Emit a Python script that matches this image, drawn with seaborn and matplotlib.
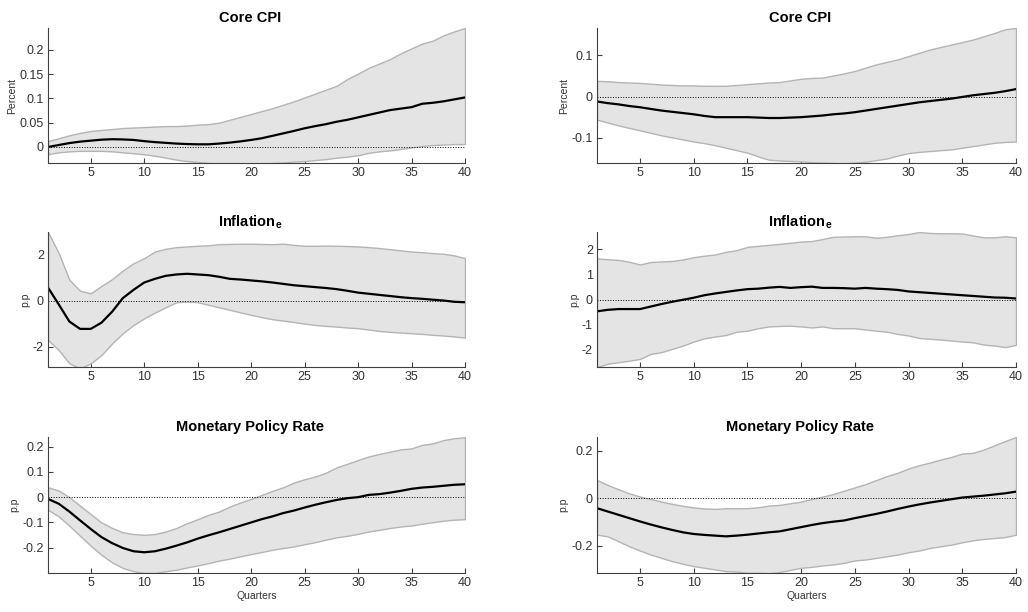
import numpy as np
import pandas as pd
import matplotlib
matplotlib.use("Agg")
import matplotlib.pyplot as plt
from matplotlib.ticker import FormatStrFormatter
import seaborn as sns

# horizon
quarters = list(range(1, 41))

# ---- Core CPI, left column ----
cpi_l_med = [0.000, 0.004, 0.008, 0.011, 0.013, 0.015, 0.016, 0.0155, 0.0145, 0.012,
             0.010, 0.0085, 0.007, 0.006, 0.0055, 0.0055, 0.007, 0.009, 0.0115, 0.0145,
             0.018, 0.023, 0.028, 0.033, 0.0385, 0.043, 0.047, 0.052, 0.056, 0.061,
             0.066, 0.071, 0.076, 0.079, 0.082, 0.089, 0.091, 0.094, 0.098, 0.102]
cpi_l_hi = [0.012, 0.018, 0.024, 0.029, 0.033, 0.035, 0.037, 0.039, 0.040, 0.041,
            0.042, 0.043, 0.043, 0.044, 0.046, 0.047, 0.050, 0.056, 0.062, 0.068,
            0.074, 0.080, 0.087, 0.094, 0.102, 0.110, 0.118, 0.126, 0.140, 0.151,
            0.163, 0.172, 0.181, 0.193, 0.203, 0.213, 0.219, 0.230, 0.238, 0.245]
cpi_l_lo = [-0.015, -0.011, -0.009, -0.008, -0.008, -0.008, -0.009, -0.011, -0.013, -0.015,
            -0.018, -0.022, -0.026, -0.029, -0.031, -0.033, -0.034, -0.035, -0.034, -0.034,
            -0.034, -0.033, -0.032, -0.030, -0.029, -0.027, -0.025, -0.022, -0.020, -0.017,
            -0.012, -0.009, -0.007, -0.004, -0.001, 0.002, 0.004, 0.005, 0.006, 0.006]

# ---- Core CPI, right column ----
cpi_r_med = [-0.012, -0.016, -0.019, -0.023, -0.026, -0.030, -0.034, -0.037, -0.040, -0.043,
             -0.047, -0.050, -0.050, -0.050, -0.050, -0.051, -0.052, -0.052, -0.051, -0.050,
             -0.048, -0.046, -0.043, -0.041, -0.038, -0.034, -0.030, -0.026, -0.022, -0.018,
             -0.014, -0.011, -0.008, -0.005, -0.001, 0.003, 0.006, 0.009, 0.013, 0.018]
cpi_r_hi = [0.038, 0.037, 0.035, 0.034, 0.033, 0.031, 0.029, 0.028, 0.027, 0.027,
            0.026, 0.026, 0.026, 0.028, 0.030, 0.032, 0.034, 0.035, 0.039, 0.043,
            0.045, 0.046, 0.051, 0.056, 0.062, 0.070, 0.078, 0.084, 0.090, 0.098,
            0.106, 0.114, 0.120, 0.126, 0.132, 0.138, 0.146, 0.154, 0.163, 0.166]
cpi_r_lo = [-0.056, -0.063, -0.070, -0.076, -0.082, -0.088, -0.094, -0.099, -0.104, -0.109,
            -0.113, -0.118, -0.124, -0.130, -0.136, -0.145, -0.153, -0.155, -0.156, -0.157,
            -0.159, -0.160, -0.161, -0.162, -0.160, -0.158, -0.154, -0.150, -0.143, -0.137,
            -0.134, -0.132, -0.130, -0.128, -0.124, -0.120, -0.116, -0.112, -0.110, -0.109]

# ---- Inflation expectations, left column ----
inf_l_med = [0.58, -0.15, -0.90, -1.22, -1.22, -0.95, -0.47, 0.12, 0.48, 0.80,
             0.96, 1.09, 1.15, 1.18, 1.15, 1.12, 1.05, 0.96, 0.93, 0.89,
             0.85, 0.80, 0.74, 0.68, 0.64, 0.60, 0.56, 0.51, 0.44, 0.36,
             0.31, 0.26, 0.21, 0.16, 0.12, 0.09, 0.05, 0.015, -0.04, -0.06]
inf_l_hi = [3.00, 2.08, 0.92, 0.44, 0.33, 0.65, 0.95, 1.32, 1.64, 1.86,
            2.15, 2.27, 2.34, 2.37, 2.40, 2.42, 2.47, 2.48, 2.49, 2.49,
            2.48, 2.47, 2.49, 2.44, 2.40, 2.40, 2.41, 2.40, 2.39, 2.37,
            2.34, 2.30, 2.25, 2.20, 2.15, 2.12, 2.08, 2.05, 1.98, 1.86]
inf_l_lo = [-1.70, -2.14, -2.72, -2.94, -2.72, -2.36, -1.85, -1.41, -1.05, -0.76,
            -0.51, -0.28, -0.06, -0.03, -0.06, -0.17, -0.28, -0.39, -0.50, -0.61,
            -0.71, -0.80, -0.86, -0.92, -0.99, -1.05, -1.09, -1.12, -1.16, -1.19,
            -1.25, -1.31, -1.35, -1.38, -1.41, -1.44, -1.48, -1.51, -1.55, -1.60]

# ---- Inflation expectations, right column ----
inf_r_med = [-0.47, -0.41, -0.38, -0.38, -0.38, -0.28, -0.18, -0.09, -0.01, 0.07,
             0.17, 0.24, 0.30, 0.36, 0.41, 0.43, 0.47, 0.50, 0.46, 0.49,
             0.51, 0.46, 0.46, 0.45, 0.43, 0.46, 0.43, 0.41, 0.38, 0.32,
             0.29, 0.26, 0.23, 0.20, 0.17, 0.14, 0.11, 0.08, 0.07, 0.04]
inf_r_hi = [1.63, 1.60, 1.57, 1.50, 1.39, 1.49, 1.51, 1.53, 1.59, 1.68,
            1.74, 1.79, 1.89, 1.96, 2.09, 2.13, 2.17, 2.21, 2.25, 2.30,
            2.32, 2.40, 2.49, 2.50, 2.51, 2.51, 2.45, 2.49, 2.55, 2.60,
            2.68, 2.64, 2.63, 2.63, 2.62, 2.54, 2.47, 2.47, 2.51, 2.47]
inf_r_lo = [-2.68, -2.55, -2.49, -2.43, -2.36, -2.16, -2.09, -1.96, -1.83, -1.67,
            -1.54, -1.47, -1.41, -1.28, -1.24, -1.14, -1.07, -1.05, -1.04, -1.07,
            -1.11, -1.07, -1.14, -1.14, -1.14, -1.19, -1.24, -1.28, -1.37, -1.43,
            -1.53, -1.56, -1.59, -1.63, -1.67, -1.70, -1.79, -1.83, -1.89, -1.80]

# ---- Monetary policy rate, left column ----
mpr_l_med = [-0.007, -0.026, -0.057, -0.092, -0.126, -0.158, -0.182, -0.201, -0.214, -0.218,
             -0.214, -0.204, -0.192, -0.179, -0.164, -0.151, -0.139, -0.126, -0.113, -0.100,
             -0.087, -0.076, -0.063, -0.053, -0.041, -0.030, -0.020, -0.011, -0.004, 0.000,
             0.009, 0.012, 0.018, 0.025, 0.033, 0.038, 0.041, 0.045, 0.049, 0.051]
mpr_l_hi = [0.039, 0.026, 0.000, -0.034, -0.067, -0.100, -0.122, -0.139, -0.146, -0.149,
            -0.146, -0.136, -0.122, -0.103, -0.087, -0.070, -0.057, -0.037, -0.021, -0.007,
            0.009, 0.025, 0.039, 0.058, 0.071, 0.082, 0.097, 0.118, 0.132, 0.147,
            0.161, 0.171, 0.180, 0.189, 0.193, 0.207, 0.213, 0.226, 0.233, 0.237]
mpr_l_lo = [-0.050, -0.076, -0.113, -0.153, -0.192, -0.228, -0.258, -0.280, -0.293, -0.300,
            -0.300, -0.293, -0.287, -0.278, -0.270, -0.261, -0.251, -0.243, -0.234, -0.225,
            -0.217, -0.208, -0.201, -0.195, -0.186, -0.178, -0.168, -0.159, -0.153, -0.145,
            -0.136, -0.129, -0.122, -0.116, -0.112, -0.105, -0.099, -0.093, -0.089, -0.087]

# ---- Monetary policy rate, right column ----
mpr_r_med = [-0.042, -0.056, -0.070, -0.084, -0.098, -0.111, -0.123, -0.134, -0.144, -0.151,
             -0.155, -0.158, -0.161, -0.158, -0.154, -0.149, -0.144, -0.140, -0.131, -0.122,
             -0.113, -0.105, -0.099, -0.094, -0.084, -0.075, -0.066, -0.056, -0.045, -0.035,
             -0.026, -0.018, -0.011, -0.004, 0.003, 0.007, 0.011, 0.016, 0.021, 0.028]
mpr_r_hi = [0.077, 0.056, 0.038, 0.021, 0.007, -0.003, -0.014, -0.024, -0.032, -0.039,
            -0.043, -0.045, -0.042, -0.042, -0.042, -0.038, -0.031, -0.028, -0.021, -0.014,
            -0.003, 0.007, 0.018, 0.032, 0.046, 0.060, 0.077, 0.094, 0.108, 0.126,
            0.140, 0.151, 0.164, 0.175, 0.189, 0.192, 0.206, 0.224, 0.242, 0.259]
mpr_r_lo = [-0.154, -0.161, -0.182, -0.203, -0.221, -0.238, -0.252, -0.266, -0.277, -0.287,
            -0.294, -0.301, -0.308, -0.310, -0.315, -0.315, -0.317, -0.312, -0.303, -0.294,
            -0.290, -0.284, -0.280, -0.273, -0.263, -0.259, -0.252, -0.245, -0.238, -0.228,
            -0.221, -0.210, -0.203, -0.196, -0.186, -0.178, -0.172, -0.168, -0.164, -0.154]

titles = ["Core CPI", r"Inflation$_{\mathbf{e}}$", "Monetary Policy Rate"]
ylabels = ["Percent", "p.p", "p.p"]

sns.set_theme(style="white")
plt.rcParams["font.family"] = ["Liberation Sans", "DejaVu Sans"]
plt.rcParams["mathtext.fontset"] = "custom"
plt.rcParams["mathtext.rm"] = "Liberation Sans"
plt.rcParams["mathtext.bf"] = "Liberation Sans:bold"
plt.rcParams["axes.unicode_minus"] = False

panels = [
    # (row, col, med, lo, hi, ylim, yticks)
    (0, 0, cpi_l_med, cpi_l_lo, cpi_l_hi, (-0.033, 0.245), [0, 0.05, 0.1, 0.15, 0.2]),
    (0, 1, cpi_r_med, cpi_r_lo, cpi_r_hi, (-0.161, 0.166), [-0.1, 0, 0.1]),
    (1, 0, inf_l_med, inf_l_lo, inf_l_hi, (-2.88, 3.0), [-2, 0, 2]),
    (1, 1, inf_r_med, inf_r_lo, inf_r_hi, (-2.68, 2.68), [-2, -1, 0, 1, 2]),
    (2, 0, mpr_l_med, mpr_l_lo, mpr_l_hi, (-0.300, 0.238), [-0.2, -0.1, 0, 0.1, 0.2]),
    (2, 1, mpr_r_med, mpr_r_lo, mpr_r_hi, (-0.316, 0.259), [-0.2, 0, 0.2]),
]

fig = plt.figure(figsize=(10.28, 6.12), dpi=100)

col_x = [48 / 1028, 597 / 1028]
col_w = [417 / 1028, 419 / 1028]
row_y = [1 - 163 / 612, 1 - 367 / 612, 1 - 573 / 612]
row_h = [135 / 612, 135 / 612, 136 / 612]

axis_col = "#404040"

for row, col, med, lo, hi, ylim, yticks in panels:
    ax = fig.add_axes([col_x[col], row_y[row], col_w[col], row_h[row]])
    ax.fill_between(quarters, lo, hi, facecolor="#e4e4e4", edgecolor="#b4b4b4", linewidth=1.0)
    ax.axhline(0, color="black", linestyle=":", linewidth=0.7)
    sns.lineplot(x=quarters, y=med, ax=ax, color="black", linewidth=1.6)

    ax.set_xlim(1, 40)
    ax.set_ylim(*ylim)
    ax.set_xticks([5, 10, 15, 20, 25, 30, 35, 40])
    ax.set_yticks(yticks)
    ax.yaxis.set_major_formatter(FormatStrFormatter("%g"))

    ax.set_title(titles[row], fontsize=10.5, fontweight="bold", pad=4, x=0.485, color="black")
    ax.set_ylabel(ylabels[row], fontsize=7.5, color="#333333", labelpad=2)
    if row == 2:
        ax.set_xlabel("Quarters", fontsize=7.5, color="#333333", labelpad=1)

    for side in ["top", "right"]:
        ax.spines[side].set_visible(False)
    for side in ["left", "bottom"]:
        ax.spines[side].set_color(axis_col)
        ax.spines[side].set_linewidth(0.8)
    ax.tick_params(direction="in", length=3.5, width=0.8, color=axis_col,
                   labelsize=9, labelcolor="#333333", left=True, bottom=True, pad=3)

fig.savefig("out.png", dpi=100)
